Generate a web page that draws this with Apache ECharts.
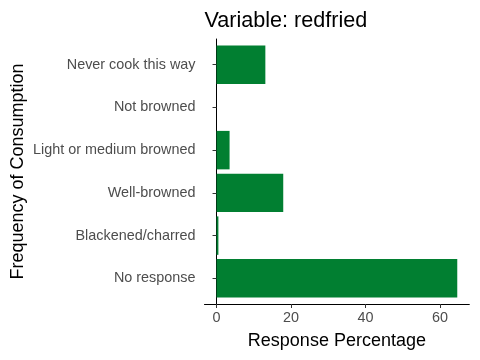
<!DOCTYPE html>
<html>
<head>
<meta charset="utf-8">
<script src="https://cdn.jsdelivr.net/npm/echarts@6/dist/echarts.min.js"></script>
<style>html,body{margin:0;padding:0;background:#fff}#c{width:480px;height:360px}</style>
</head>
<body>
<div id="c"></div>
<script>
const categories = ["Never cook this way", "Not browned", "Light or medium browned", "Well-browned", "Blackened/charred", "No response"];
const values = [13.1, 0, 3.5, 17.9, 0.5, 64.6];
const xTicks = [0, 20, 40, 60];
const titleText = "Variable: redfried";
const xTitle = "Response Percentage";
const yTitle = "Frequency of Consumption";

const dataMax = Math.max(...values);
const pad = dataMax * 0.05;
const xMin = -pad, xMax = dataMax + pad;
const font = "Liberation Sans, Arial, sans-serif";
const plotTop = 39, plotBottom = 304, plotLeft = 204.5, plotRight = 469.3;
const H = 360, W = 480;
const unit = (plotBottom - plotTop) / (categories.length - 1 + 1.2);
const innerTop = plotTop + 0.1 * unit;
const innerBottom = plotBottom - 0.1 * unit;

const chart = echarts.init(document.getElementById('c'), null, {renderer: 'canvas'});
chart.setOption({
  animation: false,
  backgroundColor: '#ffffff',
  title: {
    text: titleText, left: plotLeft, top: 10, padding: 0,
    textStyle: {fontFamily: font, fontSize: 21.6, fontWeight: 'normal', color: '#000'}
  },
  grid: [
    {left: plotLeft, right: W - plotRight, top: innerTop, bottom: H - innerBottom},
    {left: plotLeft, right: W - plotRight, top: plotTop, bottom: H - plotBottom}
  ],
  xAxis: [
    {gridIndex: 0, type: 'value', min: xMin, max: xMax, show: false, splitLine: {show: false}},
    {gridIndex: 1, type: 'value', min: xMin, max: xMax,
      axisLine: {show: true, lineStyle: {color: '#000', width: 1}},
      axisTick: {show: true, length: 4, customValues: xTicks, lineStyle: {color: '#333', width: 1}},
      axisLabel: {customValues: xTicks, color: '#4D4D4D', fontFamily: font, fontSize: 14.4, margin: 7},
      splitLine: {show: false},
      name: xTitle, nameLocation: 'middle', nameGap: 28,
      nameTextStyle: {fontFamily: font, fontSize: 18, color: '#000'}
    }
  ],
  yAxis: [
    {gridIndex: 0, type: 'category', data: categories, inverse: true,
      axisLine: {show: false},
      axisTick: {show: true, alignWithLabel: true, length: 4, lineStyle: {color: '#333', width: 1}},
      axisLabel: {color: '#4D4D4D', fontFamily: font, fontSize: 14.4, margin: 9},
      splitLine: {show: false}
    },
    {gridIndex: 1, type: 'category', data: categories, inverse: true,
      axisLine: {show: true, lineStyle: {color: '#000', width: 1}},
      axisTick: {show: false}, axisLabel: {show: false}, splitLine: {show: false},
      name: yTitle, nameLocation: 'middle', nameGap: 177, nameRotate: 90,
      nameTextStyle: {fontFamily: font, fontSize: 18, color: '#000'}
    }
  ],
  series: [{
    type: 'bar', xAxisIndex: 0, yAxisIndex: 0,
    data: values, barCategoryGap: '10%',
    itemStyle: {color: '#017F31'}
  }]
});
</script>
</body>
</html>
